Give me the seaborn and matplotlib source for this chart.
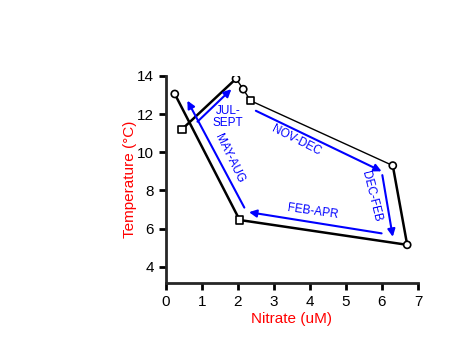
import numpy as np
import pandas as pd
import matplotlib.pyplot as plt
import seaborn as sns

# Data
nitrate = [0.25, 2.05, 6.7, 6.3, 2.35, 2.15, 1.95, 0.45]
temperature = [13.05, 6.45, 5.15, 9.3, 12.7, 13.3, 13.85, 11.2]
marker_kind = ['circle', 'square', 'circle', 'circle', 'square', 'circle', 'circle', 'square']

periods = ['JUL-\nSEPT', 'MAY-AUG', 'NOV-DEC', 'DEC-FEB', 'FEB-APR']
arrow_from_x = [0.88, 2.18, 2.5, 6.01, 5.99]
arrow_from_y = [11.6, 7.1, 12.17, 8.8, 5.75]
arrow_to_x = [1.82, 0.6, 5.99, 6.3, 2.31]
arrow_to_y = [13.3, 12.7, 9.0, 5.57, 6.86]
label_x = [1.72, 1.76, 3.63, 5.71, 4.09]
label_y = [11.85, 9.68, 10.63, 7.67, 6.88]
label_rot = [0, -64, -27, -76, -8]

df = pd.DataFrame({'nitrate': nitrate, 'temp': temperature, 'kind': marker_kind})

sns.set_style("ticks")
plt.rcParams['font.family'] = ['Liberation Sans', 'DejaVu Sans']

fig = plt.figure(figsize=(4.75, 3.56), dpi=100)
ax = fig.add_axes([0.349, 0.205, 0.531, 0.582])

# heavy and light parts of the loop
for part, w in [(df.iloc[0:4], 1.8), (df.iloc[3:7], 1.0), (df.iloc[6:8], 1.8)]:
    sns.lineplot(data=part, x='nitrate', y='temp', sort=False, color='black',
                 lw=w, ax=ax, estimator=None)
sns.scatterplot(data=df, x='nitrate', y='temp', style='kind',
                markers={'circle': 'o', 'square': 's'}, s=26,
                facecolor='white', edgecolor='black', linewidth=1.2,
                legend=False, ax=ax, zorder=3)

blue = '#0000ff'
for i in range(len(periods)):
    ax.annotate('', xy=(arrow_to_x[i], arrow_to_y[i]),
                xytext=(arrow_from_x[i], arrow_from_y[i]),
                arrowprops=dict(arrowstyle='-|>', color=blue, lw=1.5,
                                mutation_scale=11, shrinkA=0, shrinkB=0))
    ax.text(label_x[i], label_y[i], periods[i], color=blue, fontsize=8.5,
            rotation=label_rot[i], ha='center', va='center',
            rotation_mode='anchor', linespacing=1.0)

ax.set_xlim(0, 7)
ax.set_ylim(3.15, 14)
ax.set_xticks(range(0, 8))
ax.set_yticks([4, 6, 8, 10, 12, 14])
ax.tick_params(axis='both', direction='out', length=5, width=2,
               labelsize=11, colors='black')
for side in ['left', 'bottom']:
    ax.spines[side].set_linewidth(2)
sns.despine(ax=ax)

ax.set_xlabel('Nitrate (uM)', color='red', fontsize=11, labelpad=2)
ax.set_ylabel('Temperature (°C)', color='red', fontsize=11, labelpad=0)

plt.savefig('out.png', dpi=100)
